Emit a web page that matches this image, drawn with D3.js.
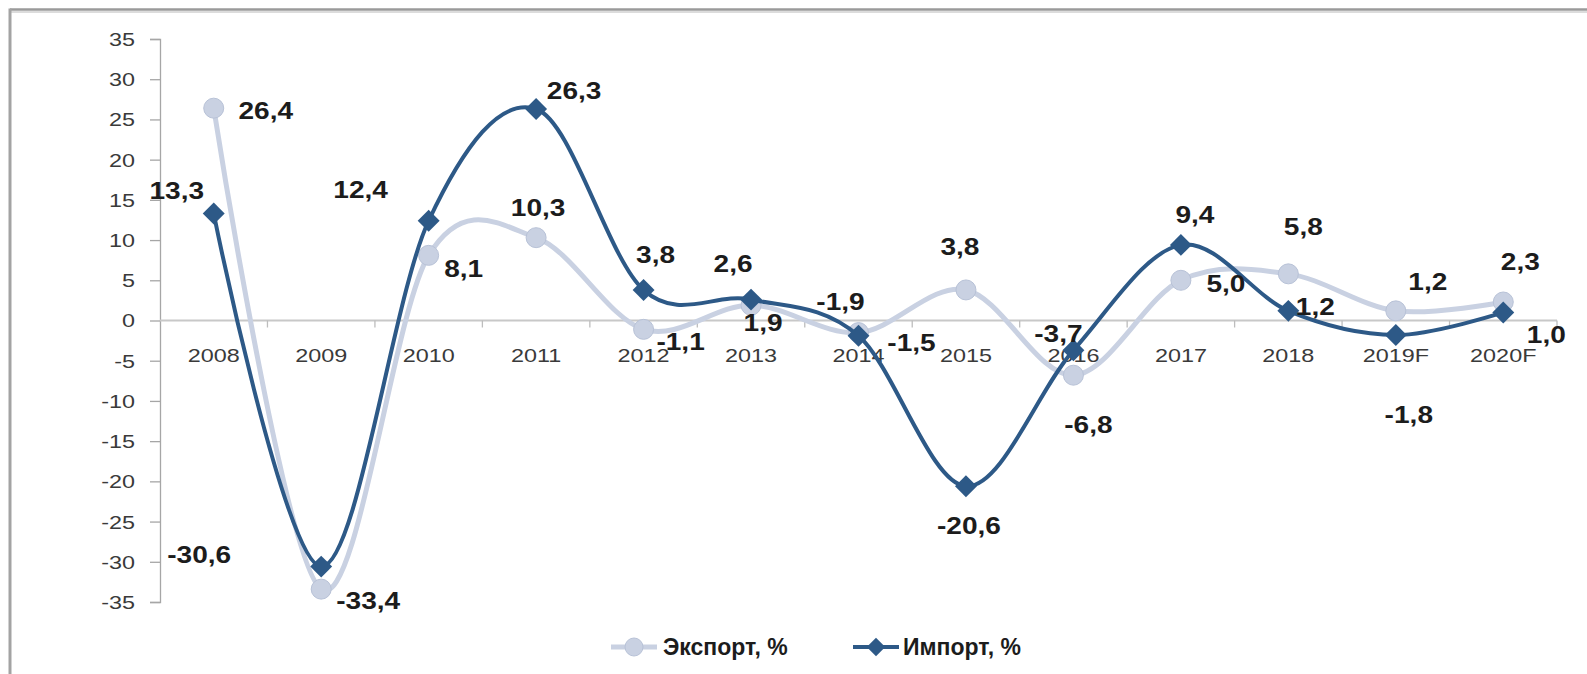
<!DOCTYPE html>
<html><head><meta charset="utf-8">
<script src="https://cdn.jsdelivr.net/npm/d3@7"></script>
<style>body{margin:0;background:#fff}svg{display:block}</style>
</head><body>
<svg id="c" width="1587" height="674"></svg>
<script>
const categories = ["2008","2009","2010","2011","2012","2013","2014","2015","2016","2017","2018","2019F","2020F"];
const exportValues = [26.4,-33.4,8.1,10.3,-1.1,1.9,-1.5,3.8,-6.8,5.0,5.8,1.2,2.3];
const importValues = [13.3,-30.6,12.4,26.3,3.8,2.6,-1.9,-20.6,-3.7,9.4,1.2,-1.8,1.0];
const yTicks = [35,30,25,20,15,10,5,0,-5,-10,-15,-20,-25,-30,-35];
const seriesNames = ["Экспорт, %","Импорт, %"];

// label placement offsets (layout only)
const exportLabelOffsets = [[52,3],[47,12],[35,13],[2,-30],[37,12],[12,18],[53,10],[-6,-43],[15,50],[45,3],[15,-47],[32,-29],[17,-40]];
const importLabelOffsets = [[-37,-23],[-122,-12],[-68,-31],[38,-18],[12,-35],[-18,-36],[-18,-34],[3,40],[-15,-17],[14,-30],[27,-4],[13,80],[43,22]];

const svg = d3.select("#c");
const fmt = v => v.toFixed(1).replace(".", ",");

// frame
svg.append("line").attr("x1",10).attr("x2",1587).attr("y1",9.5).attr("y2",9.5).attr("stroke","#9a9a9a").attr("stroke-width",2.5);
svg.append("line").attr("x1",11).attr("x2",1587).attr("y1",12).attr("y2",12).attr("stroke","#dcdcdc").attr("stroke-width",2);
svg.append("line").attr("x1",10).attr("x2",10).attr("y1",8.5).attr("y2",674).attr("stroke","#a3a3a3").attr("stroke-width",3);

const x = d3.scaleBand().domain(categories).range([160,1557]).padding(0);
const y = d3.scaleLinear().domain([-35,35]).range([602,39]);

// y axis
const ya = svg.append("g").attr("transform","translate(160,0)")
  .call(d3.axisLeft(y).tickValues(yTicks).tickSize(10).tickSizeOuter(10).tickFormat(d=>d));
ya.select(".domain").attr("stroke","#a6a6a6").attr("stroke-width",1.3);
ya.selectAll(".tick line").attr("stroke","#a6a6a6").attr("stroke-width",1.3);
ya.selectAll(".tick text").attr("x",null).attr("dy",null)
  .attr("font-family","Liberation Sans, Arial, sans-serif").attr("font-size",18).attr("fill","#3a3a3a")
  .attr("text-anchor","end").attr("dominant-baseline","central")
  .attr("transform","translate(-25,0) scale(1.3,1)");

// x axis (zero line)
const y0 = y(0);
svg.append("line").attr("x1",160).attr("x2",1557).attr("y1",y0).attr("y2",y0).attr("stroke","#c8c8c8").attr("stroke-width",2);
const bounds = categories.slice(1).map(c=>x(c)).concat([x.range()[1]]);
svg.selectAll(".xt").data(bounds).enter().append("line")
  .attr("x1",d=>d).attr("x2",d=>d).attr("y1",y0).attr("y2",y0+7).attr("stroke","#bdbdbd").attr("stroke-width",1.3);
const xa = svg.append("g").attr("transform",`translate(0,${y0})`)
  .call(d3.axisBottom(x).tickSize(0).tickSizeOuter(0));
xa.select(".domain").remove();
xa.selectAll(".tick text").attr("y",null).attr("dy",null)
  .attr("font-family","Liberation Sans, Arial, sans-serif").attr("font-size",18).attr("fill","#3a3a3a")
  .attr("text-anchor","middle").attr("dominant-baseline","central")
  .attr("transform","translate(0,35) scale(1.3,1)");

const cx = c => x(c) + x.bandwidth()/2;
const line = d3.line().x(d=>cx(d.c)).y(d=>y(d.v)).curve(d3.curveCardinal.tension(0));

const expData = categories.map((c,i)=>({c, v:exportValues[i]}));
const impData = categories.map((c,i)=>({c, v:importValues[i]}));

const expColor = "#c9d1e2", expStroke = "#b8c2d7";
const impColor = "#2d5987";

// export series
svg.append("path").datum(expData).attr("d",line).attr("fill","none").attr("stroke",expColor).attr("stroke-width",5);
svg.selectAll(".em").data(expData).enter().append("circle")
  .attr("cx",d=>cx(d.c)).attr("cy",d=>y(d.v)).attr("r",10).attr("fill",expColor).attr("stroke",expStroke).attr("stroke-width",1);

// import series
svg.append("path").datum(impData).attr("d",line).attr("fill","none").attr("stroke",impColor).attr("stroke-width",4);
const diamond = d3.symbol().type(d3.symbolSquare).size(240);
svg.selectAll(".im").data(impData).enter().append("path")
  .attr("d",diamond).attr("fill",impColor)
  .attr("transform",d=>`translate(${cx(d.c)},${y(d.v)}) rotate(45)`);

// data labels
function labels(data, offs){
  svg.append("g").selectAll("text").data(data).enter().append("text")
    .attr("transform",(d,i)=>`translate(${cx(d.c)+offs[i][0]},${y(d.v)+offs[i][1]}) scale(1.17,1)`)
    .attr("text-anchor","middle").attr("dominant-baseline","central")
    .attr("font-family","Liberation Sans, Arial, sans-serif").attr("font-weight","bold")
    .attr("font-size",24).attr("fill","#1c1c1c").text(d=>fmt(d.v));
}
labels(expData, exportLabelOffsets);
labels(impData, importLabelOffsets);

// legend
const lg = svg.append("g");
const ly = 647;
lg.append("line").attr("x1",611).attr("x2",657).attr("y1",ly).attr("y2",ly).attr("stroke",expColor).attr("stroke-width",5);
lg.append("circle").attr("cx",634).attr("cy",ly).attr("r",9).attr("fill",expColor).attr("stroke",expStroke);
lg.append("text").attr("x",663).attr("y",ly).attr("dominant-baseline","central")
  .attr("font-family","Liberation Sans, Arial, sans-serif").attr("font-weight","bold").attr("font-size",23).attr("fill","#1c1c1c").text(seriesNames[0]);
lg.append("line").attr("x1",853).attr("x2",899).attr("y1",ly).attr("y2",ly).attr("stroke",impColor).attr("stroke-width",4);
lg.append("path").attr("d",d3.symbol().type(d3.symbolSquare).size(170)).attr("fill",impColor).attr("transform",`translate(876,${ly}) rotate(45)`);
lg.append("text").attr("x",903).attr("y",ly).attr("dominant-baseline","central")
  .attr("font-family","Liberation Sans, Arial, sans-serif").attr("font-weight","bold").attr("font-size",23).attr("fill","#1c1c1c").text(seriesNames[1]);
</script>
</body></html>
